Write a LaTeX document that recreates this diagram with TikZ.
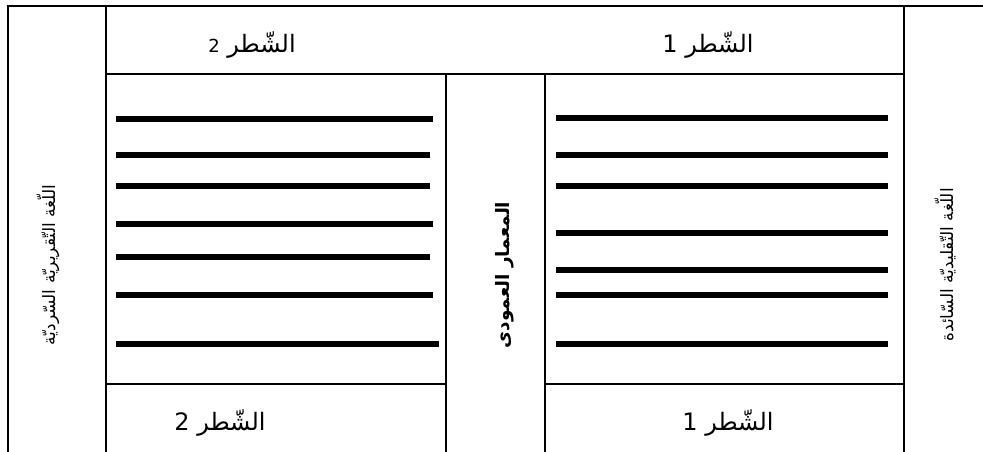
\documentclass[tikz,border=0pt]{standalone}
\usepackage{fontspec}
\setmainfont{Liberation Sans}
\newfontfamily\arabicfont[Script=Arabic]{DejaVu Sans}
\TeXXeTstate=1
\begin{document}
\begin{tikzpicture}[x=1pt,y=-1pt,
  rule/.style={line width=1.6pt,line cap=rect},
  bar/.style={line width=5.5pt},
  head/.style={inner sep=0pt,font=\arabicfont\fontsize{24}{28}\selectfont},
  side/.style={inner sep=0pt,rotate=90,font=\arabicfont\fontsize{17}{20}\selectfont},
  spine/.style={inner sep=0pt,rotate=90,font=\arabicfont\bfseries\fontsize{18.5}{22}\selectfont}]
\useasboundingbox (0,0) rectangle (983,452);
% frame
\draw[rule] (983,6) -- (8,6) -- (8,452);
\draw[rule] (106,6) -- (106,452);
\draw[rule] (904,6) -- (904,452);
\draw[rule] (106,74) -- (904,74);
\draw[rule] (446,74) -- (446,452);
\draw[rule] (545,74) -- (545,452);
\draw[rule] (106,384) -- (446,384);
\draw[rule] (545,384) -- (904,384);
% verse lines, second hemistich
\foreach \y/\e in {119/433,155/430,186/430,224/433,257/430,295/433,344/439}
  \draw[bar] (116,\y) -- (\e,\y);
% verse lines, first hemistich
\foreach \y in {118,155,186,233,270,295,344}
  \draw[bar] (556,\y) -- (888,\y);
% headings
\node[head] (t2) at (252,45) {\beginR الشّطر {\fontsize{18}{21}\selectfont 2}\endR};
\node[head] (t1) at (708,45) {\beginR الشّطر 1\endR};
\node[head] (b2) at (220,423) {\beginR الشّطر 2\endR};
\node[head] (b1) at (728,423) {\beginR الشّطر 1\endR};
% side captions
\node[side] (lt) at (48,265) {\beginR اللّغة التّقريريّة السّرديّة\endR};
\node[side] (rt) at (945,265) {\beginR اللّغة التّقليديّة السّائدة\endR};
\node[spine] (mid) at (505,275) {\beginR المعمار العمودى\endR};
\end{tikzpicture}
\end{document}
